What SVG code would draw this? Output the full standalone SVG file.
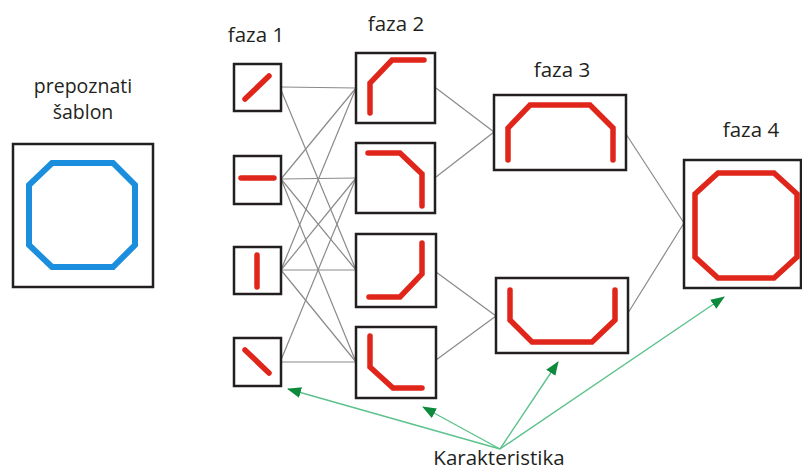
<svg xmlns="http://www.w3.org/2000/svg" width="802" height="471" viewBox="0 0 802 471">
<style>
.box{fill:#fff;stroke:#231f20;stroke-width:2.5}
.red{fill:none;stroke:#e0261b;stroke-width:5.5;stroke-linecap:round;stroke-linejoin:miter}
.blue{fill:none;stroke:#1b8fde;stroke-width:6;stroke-linejoin:miter}
.lbl{font-family:"Open Sans","Noto Sans",sans-serif;font-size:20.5px;fill:#231f20;text-anchor:middle}
.sm{font-size:19.5px}
.gray{stroke:#8a8a8a;stroke-width:1.2;fill:none}
.green{stroke:#5cc28c;stroke-width:1.4;fill:none;marker-end:url(#ah)}
</style>
<defs>
<marker id="ah" viewBox="0 0 14 11" refX="13" refY="5.5" markerWidth="14" markerHeight="11" markerUnits="userSpaceOnUse" orient="auto">
<path d="M0,0 L14,5.5 L0,11 z" fill="#0e8a3c"/>
</marker>
</defs>
<g id="connectors">
<line class="gray" x1="281" y1="87" x2="356" y2="88"/>
<line class="gray" x1="281" y1="90" x2="356" y2="270"/>
<line class="gray" x1="281" y1="179" x2="356" y2="88"/>
<line class="gray" x1="281" y1="179" x2="356" y2="178"/>
<line class="gray" x1="281" y1="179" x2="356" y2="270"/>
<line class="gray" x1="281" y1="179" x2="356" y2="362"/>
<line class="gray" x1="281" y1="270" x2="356" y2="88"/>
<line class="gray" x1="281" y1="270" x2="356" y2="178"/>
<line class="gray" x1="281" y1="270" x2="356" y2="270"/>
<line class="gray" x1="281" y1="270" x2="356" y2="362"/>
<line class="gray" x1="281" y1="360" x2="356" y2="178"/>
<line class="gray" x1="281" y1="362" x2="356" y2="362"/>
<line class="gray" x1="436" y1="88" x2="494" y2="132"/>
<line class="gray" x1="436" y1="177" x2="494" y2="132"/>
<line class="gray" x1="436" y1="272" x2="496" y2="316"/>
<line class="gray" x1="436" y1="360" x2="496" y2="316"/>
<line class="gray" x1="626" y1="134" x2="684" y2="223"/>
<line class="gray" x1="628" y1="313" x2="684" y2="223"/>
<line class="green" x1="500" y1="449" x2="288" y2="389"/>
<line class="green" x1="500" y1="449" x2="423" y2="407"/>
<line class="green" x1="500" y1="449" x2="558" y2="362"/>
<line class="green" x1="500" y1="449" x2="724" y2="297"/>
</g>
<g id="pattern">
<text class="lbl sm" x="83" y="93">prepoznati</text>
<text class="lbl sm" x="83" y="119">šablon</text>
<rect class="box" x="13" y="144" width="140" height="143"/>
<polygon class="blue" points="52,163 113,163 135,185 135,245 113,267 52,267 29,245 29,185"/>
</g>
<text class="lbl" x="256" y="42">faza 1</text>
<text class="lbl" x="396" y="31">faza 2</text>
<text class="lbl" x="562" y="77">faza 3</text>
<text class="lbl" x="751" y="137">faza 4</text>
<g id="f1a"><rect class="box" x="234" y="64" width="47" height="47"/><line class="red" x1="245" y1="99" x2="269" y2="76"/></g>
<g id="f1b"><rect class="box" x="234" y="156" width="47" height="48"/><line class="red" x1="241" y1="178" x2="274" y2="178"/></g>
<g id="f1c"><rect class="box" x="234" y="247" width="47" height="47"/><line class="red" x1="257" y1="255" x2="257" y2="287"/></g>
<g id="f1d"><rect class="box" x="234" y="338" width="47" height="48"/><line class="red" x1="245" y1="350" x2="269" y2="373"/></g>
<g id="f2a"><rect class="box" x="356" y="53" width="79" height="70"/><polyline class="red" points="370,113 370,83 392,60 424,60"/></g>
<g id="f2b"><rect class="box" x="356" y="143" width="79" height="70"/><polyline class="red" points="368,153 400,153 422,174 422,206"/></g>
<g id="f2c"><rect class="box" x="356" y="234" width="80" height="73"/><polyline class="red" points="422,243 422,274 400,297 369,297"/></g>
<g id="f2d"><rect class="box" x="356" y="327" width="80" height="71"/><polyline class="red" points="370,336 370,367 393,388 422,388"/></g>
<g id="f3a"><rect class="box" x="494" y="95" width="132" height="75"/><polyline class="red" points="508,160 508,128 530,105 590,105 613,128 613,160"/></g>
<g id="f3b"><rect class="box" x="496" y="278" width="132" height="75"/><polyline class="red" points="510,290 510,320 532,342 592,342 615,320 615,290"/></g>
<g id="f4"><rect class="box" x="684" y="160" width="117" height="128"/><polygon class="red" points="718,173 774,173 797,194 797,257 774,278 718,278 695,257 695,194"/></g>
<text class="lbl" x="499" y="465">Karakteristika</text>
</svg>
